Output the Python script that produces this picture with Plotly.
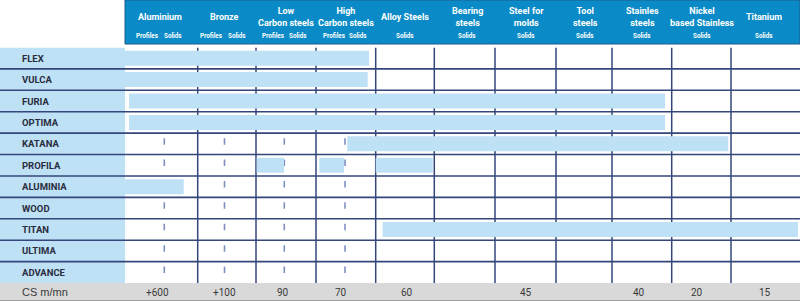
import plotly.graph_objects as go

# ---------------- data ----------------
rows = ["FLEX", "VULCA", "FURIA", "OPTIMA", "KATANA", "PROFILA",
        "ALUMINIA", "WOOD", "TITAN", "ULTIMA", "ADVANCE"]

materials = ["Aluminium", "Bronze", "Low<br>Carbon steels", "High<br>Carbon steels",
             "Alloy Steels", "Bearing<br>steels", "Steel for<br>molds", "Tool<br>steels",
             "Stainles<br>steels", "Nickel<br>based Stainless", "Titanium"]

sub_labels = ["Profiles", "Solids", "Profiles", "Solids", "Profiles", "Solids",
              "Profiles", "Solids", "Solids", "Solids", "Solids", "Solids",
              "Solids", "Solids", "Solids"]

cs_values = ["+600", "+100", "90", "70", "60", "45", "40", "20", "15"]

# bars (x in chart units across the material scale)
bar_row = ["FLEX", "VULCA", "FURIA", "OPTIMA", "KATANA",
           "PROFILA", "PROFILA", "PROFILA", "ALUMINIA", "TITAN"]
bar_start = [120, 120, 129, 129, 347.3, 256.7, 319.3, 375.7, 120, 382.7]
bar_end = [369, 367.7, 665, 665, 728.3, 284, 344, 432.7, 183.7, 798]

# ---------------- layout geometry ----------------
W, H = 800, 302
TOP, BOT = 47.5, 283.0
def py(p):  # pixel row -> paper y
    return 1 - p / H

solid_x = [197.7, 256, 316, 375.7, 434.3, 495, 556, 612, 671.7, 731]
dash_x = [164.3, 224.5, 284.3, 345]
title_x = [159.5, 224, 285.5, 345.5, 405, 467, 526, 585, 642, 701.7, 764]
sub_x = [147, 172.7, 210.7, 237, 272.7, 298, 334, 358, 405, 467, 526, 585, 642, 701.7, 764]
cs_x = [157.7, 224, 283, 340.7, 406.7, 525.7, 639, 697, 765]

NARROW = "Roboto, sans-serif"
REG = "Liberation Sans, Arial, sans-serif"
BAR_C = "#bee1f6"
LINE_C = "#34467a"
HEAD_C = "#0a8ac6"

fig = go.Figure()
fig.add_trace(go.Bar(
    orientation="h",
    y=bar_row,
    base=bar_start,
    x=[e - s for s, e in zip(bar_start, bar_end)],
    width=0.7,
    marker=dict(color=BAR_C, line=dict(width=0)),
    hoverinfo="skip",
    showlegend=False,
))

shapes = []
# label column
shapes.append(dict(type="rect", xref="x", yref="y", x0=0, x1=125, y0=-0.5, y1=10.5,
                   fillcolor=BAR_C, line=dict(width=0), layer="below"))
# horizontal lines
for i in range(len(rows) - 1):
    shapes.append(dict(type="line", xref="x", yref="y", x0=0, x1=800, y0=i + 0.5, y1=i + 0.5,
                       line=dict(color=LINE_C, width=1.6), layer="below"))
# vertical solid lines
for x in solid_x:
    shapes.append(dict(type="line", xref="x", yref="y", x0=x, x1=x, y0=-0.5, y1=10.5,
                       line=dict(color=LINE_C, width=1.5), layer="below"))
# dashed lines (one dash per row)
row_h = (BOT - TOP) / len(rows)
for x in dash_x:
    for i in range(len(rows)):
        shapes.append(dict(type="line", xref="x", yref="y", x0=x, x1=x,
                           y0=i - 0.5 + 5 / row_h, y1=i - 0.5 + 11.5 / row_h,
                           line=dict(color="#7f8fc0", width=1.6), layer="below"))
# header box
shapes.append(dict(type="rect", xref="x", yref="paper", x0=125, x1=800, y0=py(44), y1=py(0),
                   fillcolor=HEAD_C, line=dict(color="#1d5d8f", width=1), layer="above"))
# footer band
shapes.append(dict(type="rect", xref="x", yref="paper", x0=0, x1=800, y0=py(300), y1=py(BOT),
                   fillcolor="#d9d9d9", line=dict(width=0), layer="above"))
shapes.append(dict(type="line", xref="x", yref="paper", x0=0, x1=800, y0=py(300.5), y1=py(300.5),
                   line=dict(color="#9c9ea3", width=1.2), layer="above"))

ann = []
for r in rows:
    ann.append(dict(xref="x", yref="y", x=20, y=r, text="<b>%s</b>" % r, showarrow=False,
                    xanchor="left", yanchor="middle",
                    font=dict(family=NARROW, size=9.5, color="#2a2d3e")))
for t, x in zip(materials, title_x):
    ann.append(dict(xref="x", yref="paper", x=x, y=py(16.5), text="<b>%s</b>" % t, showarrow=False,
                    xanchor="center", yanchor="middle",
                    font=dict(family=NARROW, size=9, color="white")))
for t, x in zip(sub_labels, sub_x):
    ann.append(dict(xref="x", yref="paper", x=x, y=py(36), text="<b>%s</b>" % t, showarrow=False,
                    xanchor="center", yanchor="middle",
                    font=dict(family=NARROW, size=6.3, color="white")))
ann.append(dict(xref="x", yref="paper", x=20, y=py(291.5), text="CS m/mn", showarrow=False,
                xanchor="left", yanchor="middle",
                font=dict(family=REG, size=11, color="#3a3a3a")))
for t, x in zip(cs_values, cs_x):
    ann.append(dict(xref="x", yref="paper", x=x, y=py(292), text=t, showarrow=False,
                    xanchor="center", yanchor="middle",
                    font=dict(family=NARROW, size=10, color="#3a3a3a")))

fig.update_layout(
    width=W, height=H,
    margin=dict(l=0, r=0, t=0, b=0),
    paper_bgcolor="white", plot_bgcolor="white",
    showlegend=False,
    shapes=shapes,
    annotations=ann,
    xaxis=dict(range=[0, 800], domain=[0, 1], showgrid=False, zeroline=False,
               showticklabels=False, ticks="", fixedrange=True),
    yaxis=dict(type="category", categoryarray=rows, categoryorder="array",
               range=[10.5, -0.5], domain=[py(BOT), py(TOP)],
               showgrid=False, zeroline=False, showticklabels=False, ticks="", fixedrange=True),
)

fig.write_html("out.html")
